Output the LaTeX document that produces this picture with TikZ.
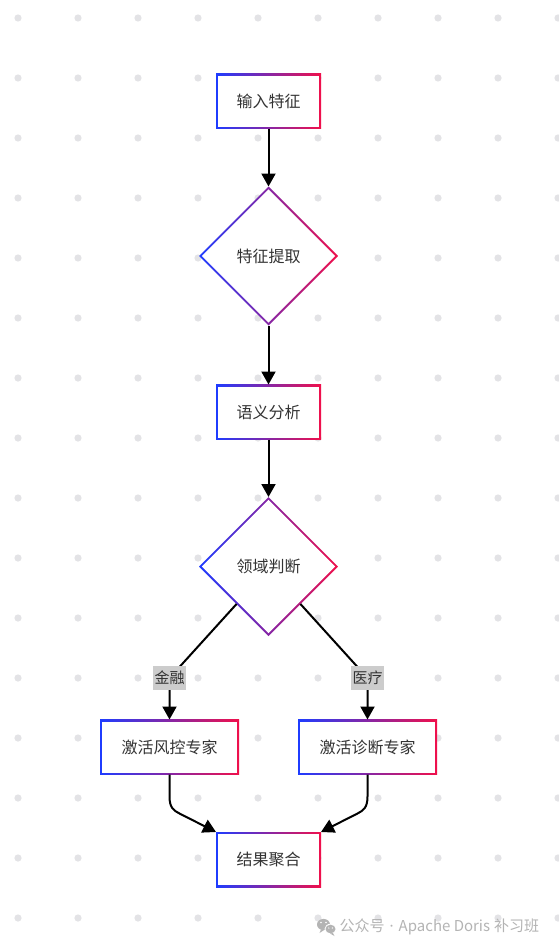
\documentclass[tikz,border=0pt]{standalone}
\usepackage{fontspec}
\setmainfont{Noto Sans CJK SC}
\newfontfamily\latinf{Noto Sans}
\usetikzlibrary{arrows.meta,calc,shapes.geometric}
\definecolor{gb}{HTML}{1E3CFF}
\definecolor{gr}{HTML}{F0104B}
\definecolor{txt}{HTML}{333333}
\definecolor{dotc}{HTML}{E3E3E6}
\definecolor{lblbg}{HTML}{CCCCCC}
\definecolor{wm}{HTML}{B4B4B4}
\tikzset{
  gbox/.style={rectangle, minimum width=105pt, minimum height=55pt, inner sep=0pt, outer sep=0pt,
    text=txt, font=\fontsize{16}{19}\selectfont,
    path picture={
      \shade[left color=gb, right color=gr] (path picture bounding box.south west) rectangle (path picture bounding box.north east);
      \fill[white] ([shift={(2pt,2pt)}]path picture bounding box.south west) rectangle ([shift={(-2pt,-2pt)}]path picture bounding box.north east);
    }},
  gdia/.style={diamond, aspect=1, minimum width=139pt, minimum height=139pt, inner sep=0pt, outer sep=0pt,
    text=txt, font=\fontsize{16}{19}\selectfont,
    path picture={
      \shade[left color=gb, right color=gr] (path picture bounding box.south west) rectangle (path picture bounding box.north east);
      \fill[white] ([yshift=-2.9pt]path picture bounding box.north) -- ([xshift=-2.9pt]path picture bounding box.east) -- ([yshift=2.9pt]path picture bounding box.south) -- ([xshift=2.9pt]path picture bounding box.west) -- cycle;
    }},
  edge/.style={draw=black, line width=2pt, -{Triangle[length=13pt,width=14pt]}},
  lbl/.style={fill=lblbg, text=txt, font=\fontsize{15}{17}\selectfont, inner xsep=1.5pt, inner ysep=0pt, minimum height=24pt},
}
\begin{document}
\begin{tikzpicture}[x=1pt,y=1pt]
\useasboundingbox (0,0) rectangle (558,-950);
\fill[white] (0,0) rectangle (558,-950);
% dot grid
\foreach \i in {0,...,9}{
  \foreach \j in {0,...,15}{
    \fill[dotc] ({18+60*\i},{-18-60*\j}) circle (3.6pt);
  }
}
% nodes
\node[gbox] (b1) at (268.5,-101) {输入特征};
\node[gdia] (d1) at (268.5,-256) {特征提取};
\node[gbox] (b2) at (268.5,-412) {语义分析};
\node[gdia] (d2) at (268.5,-566.5) {领域判断};
\node[gbox, minimum width=139pt] (b3) at (169.5,-747) {激活风控专家};
\node[gbox, minimum width=139pt] (b4) at (367.5,-747) {激活诊断专家};
\node[gbox] (b5) at (268.5,-859.5) {结果聚合};
% connectors
\draw[edge] (b1.south) -- (d1.north);
\draw[edge] (d1.south) -- (b2.north);
\draw[edge] (b2.south) -- (d2.north);
\coordinate (s1) at ($(d2.west)!0.54!(d2.south)$);
\coordinate (s2) at ($(d2.east)!0.54!(d2.south)$);
\coordinate (c1) at (169.5,-678);
\coordinate (c2) at (367.5,-678);
\draw[edge] (s1) -- (c1) node[lbl] (l1) {金融} -- (b3.north);
\draw[edge] (s2) -- (c2) node[lbl] (l2) {医疗} -- (b4.north);
\draw[edge] (b3.south) -- ++(0,-22) .. controls +(0,-11) and +(-6,3) .. ++(10,-17) -- (b5.north west);
\draw[edge] (b4.south) -- ++(0,-22) .. controls +(0,-11) and +(6,3) .. ++(-10,-17) -- (b5.north east);
% watermark
\fill[wm] (323.5,-924.5) ellipse (6.5pt and 5.6pt);
\fill[wm] (321,-929.5) -- (319.5,-933) -- (324,-930) -- cycle;
\fill[white] (330.5,-929) ellipse (6pt and 5.2pt);
\fill[wm] (330.5,-929) ellipse (5pt and 4.3pt);
\fill[wm] (333,-933) -- (334.5,-936) -- (330,-933.5) -- cycle;
\fill[white] (321,-922.5) circle (0.9pt) (326,-922.5) circle (0.9pt);
\fill[white] (328.8,-928) circle (0.7pt) (332.4,-928) circle (0.7pt);
\node[text=wm, font=\fontsize{15}{17}\selectfont, anchor=west, inner sep=0pt] (wmt) at (339.5,-927) {公众号\hspace{5pt}{\latinf ·}\hspace{5pt}Apache Doris\hspace{4pt}补习班};
\end{tikzpicture}
\end{document}
